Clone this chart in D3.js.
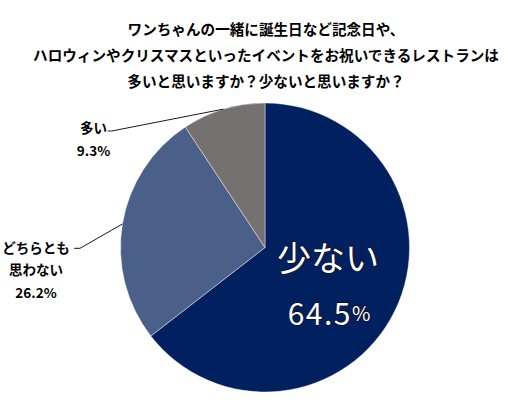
<!DOCTYPE html>
<html><head><meta charset="utf-8">
<script src="https://cdn.jsdelivr.net/npm/d3@7"></script>
<style>
html,body{margin:0;padding:0;background:#fff;}
svg{display:block;}
text{font-family:"Noto Sans CJK JP","Noto Sans",sans-serif;}
</style></head><body>
<svg id="c" width="507" height="404"></svg>
<script>
const titleLines = ["ワンちゃんの一緒に誕生日など記念日や、","ハロウィンやクリスマスといったイベントをお祝いできるレストランは","多いと思いますか？少ないと思いますか？"];
const categories = ["少ない","どちらとも思わない","多い"];
const values = [64.5, 26.2, 9.3];
const colors = ["#002060","#4A6089","#767171"];

const svg = d3.select("#c");
const cx = 265, cy = 247.5, R = 144.5;
const fmt = d3.format(".1f");

// title
svg.append("g").selectAll("text").data(titleLines).join("text")
  .attr("x", 266).attr("y", (d,i)=>28+i*26)
  .attr("text-anchor","middle").attr("dominant-baseline","central")
  .attr("font-size","14.6px").attr("font-weight","bold").attr("fill","#000")
  .text(d=>d);

const data = categories.map((c,i)=>({cat:c, value:values[i], color:colors[i]}));
const pie = d3.pie().sort(null).value(d=>d.value);
const arcs = pie(data);
const arc = d3.arc().innerRadius(0).outerRadius(R);

const g = svg.append("g").attr("transform",`translate(${cx},${cy})`);
g.selectAll("path").data(arcs).join("path")
  .attr("d", arc).attr("fill", d=>d.data.color)
  .attr("stroke","#ffffff").attr("stroke-width",0.7).attr("stroke-opacity",0.6);

function edgePoint(a){
  const m = (a.startAngle+a.endAngle)/2;
  return [cx + R*Math.sin(m), cy - R*Math.cos(m)];
}

// outside labels
const outside = [
  {idx:2, elbow:[111.7,131], end:[107.7,131], lx:93.5, names:["多い"], y0:127},
  {idx:1, elbow:[80,248.3], end:[74,248.3], lx:36, names:["どちらとも","思わない"], y0:246.5}
];
outside.forEach(o=>{
  const p = edgePoint(arcs[o.idx]);
  svg.append("polyline")
    .attr("points",[p,o.elbow,o.end].map(q=>q.join(",")).join(" "))
    .attr("fill","none").attr("stroke","#000").attr("stroke-width",0.9);
  const lines = o.names.concat([fmt(values[o.idx])+"%"]);
  lines.forEach((t,i)=>{
    svg.append("text").attr("x",o.lx).attr("y",o.y0 + i*22.5)
      .attr("text-anchor","middle").attr("dominant-baseline","central")
      .attr("font-size","13.5px").attr("font-weight","bold").attr("fill","#000")
      .text(t);
  });
});

// inside label
const inG = svg.append("g");
inG.append("text").attr("x",328).attr("y",256)
  .attr("text-anchor","middle").attr("dominant-baseline","central")
  .attr("font-size","34px").attr("fill","#fff")
  .attr("stroke","#0a0f20").attr("stroke-width",1.5).attr("paint-order","stroke")
  .text(categories[0]);
const pt = inG.append("text").attr("x",329).attr("y",312)
  .attr("text-anchor","middle").attr("dominant-baseline","central")
  .attr("fill","#fff")
  .attr("stroke","#0a0f20").attr("stroke-width",1.5).attr("paint-order","stroke");
pt.append("tspan").attr("font-size","30px").attr("letter-spacing","1.5px").text(fmt(values[0]));
pt.append("tspan").attr("font-size","20px").text("%");
</script>
</body></html>
